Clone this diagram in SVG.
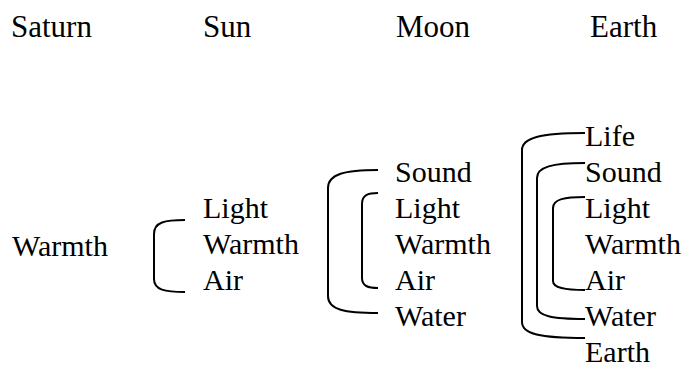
<svg xmlns="http://www.w3.org/2000/svg" width="690" height="369" viewBox="0 0 690 369">
<style>
text{font-family:"Liberation Serif","Times New Roman",serif;font-size:30px;fill:#000}
.hd{font-size:31px}
.br{fill:none;stroke:#000;stroke-width:2}
</style>
<rect width="690" height="369" fill="#fff"/>
<g id="headers">
<text class="hd" x="11" y="37">Saturn</text>
<text class="hd" x="203" y="37">Sun</text>
<text class="hd" x="396" y="37">Moon</text>
<text class="hd" x="590" y="37">Earth</text>
</g>
<g id="saturn"><text x="12" y="256">Warmth</text></g>
<g id="sun">
<text x="203" y="218">Light</text>
<text x="203" y="254">Warmth</text>
<text x="203" y="290">Air</text>
</g>
<g id="moon">
<text x="395" y="182">Sound</text>
<text x="395" y="218">Light</text>
<text x="395" y="254">Warmth</text>
<text x="395" y="290">Air</text>
<text x="395" y="326">Water</text>
</g>
<g id="earth">
<text x="585" y="146">Life</text>
<text x="585" y="182">Sound</text>
<text x="585" y="218">Light</text>
<text x="585" y="254">Warmth</text>
<text x="585" y="290">Air</text>
<text x="585" y="326">Water</text>
<text x="585" y="362">Earth</text>
</g>
<g id="connectors">
<path class="br" d="M185,220 C165,220 154,222 154,234 L154,279 C154,290 165,292 185,292"/>
<path class="br" d="M378,170 C345,170 328,174 328,188 L328,296 C328,310 345,313 378,313"/>
<path class="br" d="M378,193 C368,193 362,195 362,204 L362,278 C362,286 368,288 378,288"/>
<path class="br" d="M585,133 C540,133 522,138 522,150 L522,322 C522,334 540,338 585,338"/>
<path class="br" d="M585,163 C552,163 537,167 537,178 L537,306 C537,316 552,319 585,319"/>
<path class="br" d="M585,197 C565,197 553,199 553,208 L553,281 C553,288 565,290 585,290"/>
</g>
</svg>
